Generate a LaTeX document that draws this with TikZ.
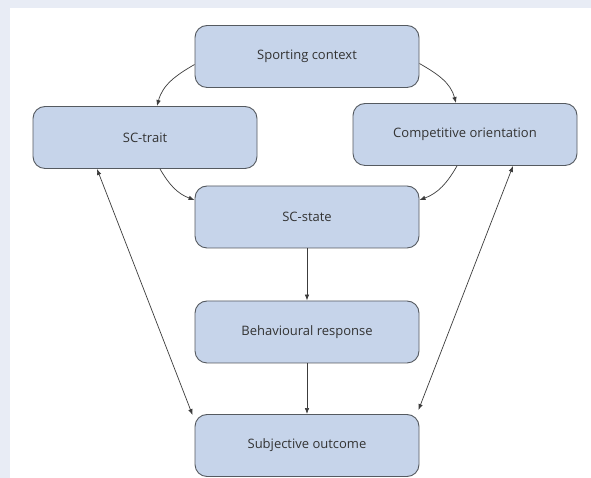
\documentclass[tikz,border=0pt]{standalone}
\usepackage{fontspec}
\setmainfont{Open Sans}
\usetikzlibrary{arrows.meta}
\definecolor{pagebg}{HTML}{E8ECF5}
\definecolor{boxfill}{HTML}{C6D4EA}
\definecolor{boxline}{HTML}{555A60}
\definecolor{txt}{HTML}{333333}
\definecolor{linkcol}{HTML}{3C3C3C}
\begin{document}
\begin{tikzpicture}[x=1pt,y=1pt,
  stage/.style={draw=boxline, line width=0.9pt, fill=boxfill, rounded corners=12pt,
    minimum width=224pt, minimum height=62pt, inner sep=0pt,
    font=\fontsize{13}{15}\selectfont, text=txt},
  link/.style={draw=linkcol, line width=0.7pt, -{Latex[length=6pt,width=4.5pt]}},
  both/.style={link, {Latex[length=6pt,width=4.5pt]}-{Latex[length=6pt,width=4.5pt]}}]
  % page and panel
  \fill[pagebg] (0,0) rectangle (591,478);
  \fill[white] (10,0) rectangle (591,470);
  \useasboundingbox (0,0) rectangle (591,478);

  % stages
  \node[stage] (ctx)   at (307,421.5) {Sporting context};
  \node[stage] (trait) at (145,340.5) {SC-trait};
  \node[stage] (comp)  at (465,343.5) {Competitive orientation};
  \node[stage] (state) at (307,261)   {SC-state};
  \node[stage] (beh)   at (307,146)   {Behavioural response};
  \node[stage] (subj)  at (307,32.5)  {Subjective outcome};

  % links
  \draw[link] ([yshift=-8pt]ctx.west) to[out=210,in=75] ([xshift=12pt]trait.north);
  \draw[link] ([yshift=-7pt]ctx.east) to[out=-30,in=105] ([xshift=-9pt]comp.north);
  \draw[link] ([xshift=15pt]trait.south) to[out=-60,in=160] ([yshift=17pt]state.west);
  \draw[link] ([xshift=-8pt]comp.south) to[out=240,in=20] ([yshift=17pt]state.east);
  \draw[link] (state) -- (beh);
  \draw[link] (beh) -- (subj);
  \draw[both] ([xshift=-48pt]trait.south) -- ([xshift=-2pt,yshift=-1pt]subj.north west);
  \draw[both] ([xshift=48pt]comp.south) -- ([xshift=-1pt,yshift=4pt]subj.north east);
\end{tikzpicture}
\end{document}
